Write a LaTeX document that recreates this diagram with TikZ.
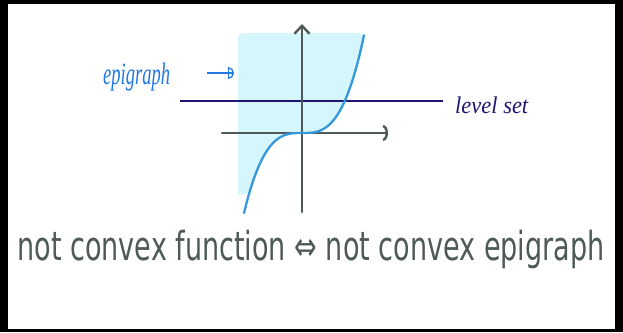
\documentclass[tikz,border=0pt]{standalone}
\usepackage{fontspec}
\setmainfont{DejaVu Sans}
\newfontfamily\handfont{Liberation Serif}
\usetikzlibrary{arrows.meta}
\definecolor{Slate}{HTML}{4E5A58}
\definecolor{Sky}{HTML}{3598DB}
\definecolor{Ice}{HTML}{D5F6FD}
\definecolor{Navy}{HTML}{1C1672}
\definecolor{Pen}{HTML}{2079E6}
\tikzset{
  axisline/.style={line width=2.4pt, draw=Slate, line cap=round},
  levelline/.style={line width=1.8pt, draw=Navy},
  curveline/.style={line width=2.3pt, draw=Sky, line cap=round},
  epifill/.style={fill=Ice},
  penarrow/.style={-{Bar[width=12pt,line width=1.3pt,sep=-1pt]Arc Barb[width=12pt,length=6pt,line width=1.3pt]}, line width=1.3pt, draw=Pen},
  handlabel/.style={inner sep=0pt, anchor=base west, font=\handfont\itshape\fontsize{31}{31}\selectfont},
  caption/.style={inner sep=0pt, anchor=base, text=Slate, font=\fontsize{40}{40}\selectfont}
}

\begin{document}
\begin{tikzpicture}[x=1pt,y=-1pt]
    \useasboundingbox (0,0) rectangle (623,332);
    \fill[black] (0,0) rectangle (623,332);
    \fill[white] (8,4) rectangle (615,329);
    % epigraph region
    \fill[epifill] (238,195) [rounded corners=5pt] -- (238,33) -- (365,33) [sharp corners]
      -- plot[domain=62:-53,samples=50] ({302+\x},{133-0.41*(\x/10)*(\x/10)*(\x/10)}) -- cycle;
    \coordinate (ybot) at (302,212);
    \coordinate (ytop) at (302,24);
    \coordinate (xleft) at (222,133);
    \coordinate (xright) at (388,133);
    \coordinate (lvlL) at (180,101);
    \coordinate (lvlR) at (443,101);
    \coordinate (epiA) at (207,73);
    \coordinate (epiB) at (234,73);
    \draw[levelline] (lvlL) -- (lvlR);
    \draw[axisline,-{Straight Barb[length=8pt,width=15pt]}] (ybot) -- (ytop);
    \draw[axisline,-{Arc Barb[length=5pt,width=16pt]}] (xleft) -- (xright);
    \draw[curveline] plot[domain=-58:62,samples=60] ({302+\x},{133-0.41*(\x/10)*(\x/10)*(\x/10)});
    % labels
    \node[handlabel,text=Pen] (epi) at (103,84) {\resizebox{67pt}{\height}{epigraph}};
    \draw[penarrow] (epiA) -- (epiB);
    \node[handlabel,text=Navy,font=\handfont\itshape\fontsize{24}{24}\selectfont] (lvl) at (455,113) {\resizebox{73pt}{\height}{level set}};
    \node[caption] (cap) at (311,260) {\resizebox{587pt}{\height}{not convex function ⇔ not convex epigraph}};
\end{tikzpicture}
\end{document}
